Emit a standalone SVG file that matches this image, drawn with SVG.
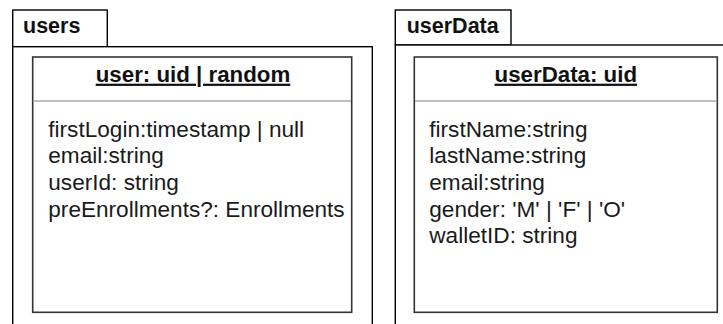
<svg xmlns="http://www.w3.org/2000/svg" width="723" height="324" viewBox="0 0 723 324">
<style>
.pkg{fill:#fff;stroke:#000;stroke-width:1.4}
.cls{fill:#fff;stroke:#333;stroke-width:1.6}
.sep{stroke:#aaa;stroke-width:1.6}
.tab{font-family:"Liberation Sans",Arial,sans-serif;font-weight:bold;font-size:21.5px;fill:#111}
.title{font-family:"Liberation Sans",Arial,sans-serif;font-weight:bold;font-size:22.3px;fill:#111;text-anchor:middle;text-decoration:underline}
.attr{font-family:"Liberation Sans",Arial,sans-serif;font-size:22.6px;fill:#1a1a1a}
</style>
<rect width="723" height="324" fill="#fff"/>
<g id="package-users">
<rect class="pkg" x="12.7" y="10" width="94.6" height="36.7"/>
<rect class="pkg" x="12.7" y="46.7" width="359.6" height="290"/>
<text class="tab" x="23" y="33">users</text>
</g>
<g id="class-user">
<rect class="cls" x="32.7" y="57" width="319" height="255.3"/>
<line class="sep" x1="33.5" y1="101" x2="351" y2="101"/>
<text class="title" x="193" y="81.7">user: uid | random</text>
<text class="attr" x="48.3" y="136.7">firstLogin:timestamp | null</text>
<text class="attr" x="48.3" y="163.3">email:string</text>
<text class="attr" x="48.3" y="190">userId: string</text>
<text class="attr" x="48.3" y="216.7">preEnrollments?: Enrollments</text>
</g>
<g id="package-userData">
<rect class="pkg" x="395.3" y="10" width="115.7" height="35"/>
<rect class="pkg" x="395.3" y="45" width="340" height="290"/>
<text class="tab" x="406.7" y="33">userData</text>
</g>
<g id="class-userData">
<rect class="cls" x="414.3" y="57" width="303" height="255.3"/>
<line class="sep" x1="415" y1="101" x2="716.5" y2="101"/>
<text class="title" x="565.8" y="81.7">userData: uid</text>
<text class="attr" x="429.3" y="136.7">firstName:string</text>
<text class="attr" x="429.3" y="163.3">lastName:string</text>
<text class="attr" x="429.3" y="190">email:string</text>
<text class="attr" x="429.3" y="216.7">gender: 'M' | 'F' | 'O'</text>
<text class="attr" x="429.3" y="243.3">walletID: string</text>
</g>
<g id="connectors"/>
</svg>
